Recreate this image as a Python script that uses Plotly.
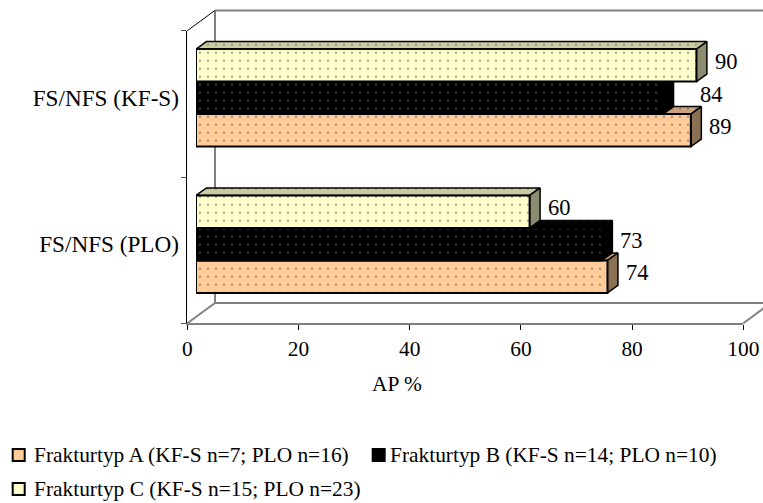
import plotly.graph_objects as go

# ---------------- data ----------------
categories = ["FS/NFS (PLO)", "FS/NFS (KF-S)"]          # bottom -> top
series_names = [
    "Frakturtyp A (KF-S n=7; PLO n=16)",
    "Frakturtyp B (KF-S n=14; PLO n=10)",
    "Frakturtyp C (KF-S n=15; PLO n=23)",
]
values_A = [74, 89]
values_B = [73, 84]
values_C = [60, 90]
x_ticks = [0, 20, 40, 60, 80, 100]
x_title = "AP %"

# ---------------- styling ----------------
W, H = 763, 503
FONT = "'Liberation Serif', 'Times New Roman', Times, 'DejaVu Serif', serif"
FS = 21.4          # legend / tick labels
FS_CAT = 23.2      # category labels
FS_VAL = 22.5      # value labels
front_cols = ["#FFCC99", "#000000", "#FFFFCC"]
top_cols = ["#CCA37A", "#000000", "#CCCCA3"]
side_cols = ["#8C7054", "#000000", "#8C8C70"]
dot_cols = ["#8A7560", "#4A4A4A", "#8C8C80"]
GRAY = "#808080"
label_nudge = {(1, 1): 18}   # (series, category) -> extra px shift of a value label

# front frame (pixels)
FX0, FX1, FY0, FY1 = 187.3, 743.3, 30.7, 323.3
# depth of the back wall (pixels)
WDX, WDY = 27.7, -20.3
# bar frame (pixels): bars sit a little behind the front plane
BX0, BY0 = 196.0, FY0 - 6.0
BX1, BY1 = BX0 + (FX1 - FX0), FY1 - 6.0
pxu_x = (BX1 - BX0) / 100.0
pxu_y = (BY1 - BY0) / 2.0
BAR_H = 32.5 / pxu_y                 # bar thickness in y units
DX = 10.5 / pxu_x                    # bar depth, x units
DY = 7.5 / pxu_y                     # bar depth, y units
offsets = [-1.5 * BAR_H, -0.5 * BAR_H, 0.5 * BAR_H]

def px(x):
    return x / W

def py(y):
    return 1 - y / H

series_vals = [values_A, values_B, values_C]
yc = list(range(len(categories)))

fig = go.Figure()

# invisible trace for the front frame axes
fig.add_trace(go.Scatter(x=[0], y=[0], mode="markers", marker=dict(opacity=0),
                         xaxis="x", yaxis="y", showlegend=False, hoverinfo="skip"))

# 3D top and side faces (drawn first, back to front A -> B -> C)
for i, vals in enumerate(series_vals):
    for j, v in enumerate(vals):
        y_bot = yc[j] + offsets[i]
        y_top = y_bot + BAR_H
        fig.add_trace(go.Scatter(
            x=[0, v, v + DX, DX, 0],
            y=[y_top, y_top, y_top + DY, y_top + DY, y_top],
            mode="lines", fill="toself", fillcolor=top_cols[i],
            fillpattern=dict(shape=".", fgcolor=dot_cols[i], bgcolor=top_cols[i],
                             size=8, solidity=0.06, fillmode="replace"),
            line=dict(color="black", width=1.5),
            xaxis="x2", yaxis="y2", showlegend=False, hoverinfo="skip"))
        fig.add_trace(go.Scatter(
            x=[v, v, v + DX, v + DX, v],
            y=[y_top, y_bot, y_bot + DY, y_top + DY, y_top],
            mode="lines", fill="toself", fillcolor=side_cols[i],
            line=dict(color="black", width=1.5),
            xaxis="x2", yaxis="y2", showlegend=False, hoverinfo="skip"))

# front faces (bars)
for i, vals in enumerate(series_vals):
    fig.add_trace(go.Bar(
        orientation="h", y=yc, x=vals, width=BAR_H, offset=offsets[i],
        name=series_names[i],
        marker=dict(color=front_cols[i], line=dict(color="black", width=2),
                    pattern=dict(shape=".", fgcolor=dot_cols[i], bgcolor=front_cols[i],
                                 size=8, solidity=0.06, fillmode="replace")),
        xaxis="x3", yaxis="y3", showlegend=False, hoverinfo="skip"))

# value labels
annotations = []
for i, vals in enumerate(series_vals):
    for j, v in enumerate(vals):
        annotations.append(dict(
            x=v + DX, y=yc[j] + offsets[i] + BAR_H / 2 + DY / 2,
            xref="x3", yref="y3", text=str(v), showarrow=False,
            xanchor="left", yanchor="middle", xshift=6 + label_nudge.get((i, j), 0),
            font=dict(family=FONT, size=FS_VAL, color="black")))

# axis title (centred under the whole chart block, as in the original)
annotations.append(dict(x=px(397), y=py(384), xref="paper", yref="paper",
                        text=x_title, showarrow=False, xanchor="center", yanchor="middle",
                        font=dict(family=FONT, size=FS, color="black")))

# custom legend
shapes = []
leg_items = [(11.7, 455.0, 31.7), (371.7, 455.0, 388.0), (11.7, 489.0, 31.7)]
for i, (lx, ly, tx) in enumerate(leg_items):
    shapes.append(dict(type="rect", xref="paper", yref="paper",
                       x0=px(lx + 1), x1=px(lx + 13), y0=py(ly - 6), y1=py(ly + 6),
                       fillcolor=front_cols[i], line=dict(color="black", width=2)))
    annotations.append(dict(x=px(tx), y=py(ly), xref="paper", yref="paper",
                            text=series_names[i], showarrow=False,
                            xanchor="left", yanchor="middle",
                            font=dict(family=FONT, size=FS, color="black")))

def seg(x0, y0, x1, y1, color=GRAY, width=2):
    return dict(type="line", xref="paper", yref="paper", layer="below",
                x0=px(x0), y0=py(y0), x1=px(x1), y1=py(y1),
                line=dict(color=color, width=width))

shapes += [
    seg(FX0 + WDX, FY0 + WDY, W + 10, FY0 + WDY),
    seg(FX0 + WDX, FY0 + WDY, FX0 + WDX, FY1 + WDY),
    seg(FX0, FY0, FX0 + WDX, FY0 + WDY, color="black", width=1),
    seg(FX0 + WDX, FY1 + WDY, W + 10, FY1 + WDY),
    seg(FX0, FY1, FX0 + WDX, FY1 + WDY),
    seg(FX1, FY1, FX1 + WDX, FY1 + WDY),
]

axis_off = dict(showgrid=False, zeroline=False, visible=False, fixedrange=True,
                automargin=False)

fig.update_layout(
    width=W, height=H, autosize=False, margin=dict(l=0, r=0, t=0, b=0, pad=0, autoexpand=False),
    paper_bgcolor="white", plot_bgcolor="rgba(0,0,0,0)",
    barmode="overlay", showlegend=False,
    font=dict(family=FONT, size=FS, color="black"),
    xaxis=dict(domain=[px(FX0), px(FX1)], range=[0, 100], tickvals=x_ticks,
               ticks="outside", ticklen=5, tickcolor="black", tickwidth=1,
               showline=True, linecolor=GRAY, linewidth=2,
               showgrid=False, zeroline=False, anchor="y", automargin=False,
               tickfont=dict(family=FONT, size=FS), fixedrange=True),
    yaxis=dict(domain=[py(FY1), py(FY0)], range=[0, 2], tickvals=[0, 1, 2],
               ticks="outside", ticklen=5, tickcolor="#555555", showticklabels=False,
               showline=True, linecolor="black", linewidth=1, automargin=False,
               showgrid=False, zeroline=False, anchor="x", fixedrange=True),
    xaxis2=dict(domain=[px(BX0), px(BX1)], range=[0, 100], anchor="y2", **axis_off),
    yaxis2=dict(domain=[py(BY1), py(BY0)], range=[-0.5, 1.5], anchor="x2", **axis_off),
    xaxis3=dict(domain=[px(BX0), px(BX1)], range=[0, 100], anchor="y3", **axis_off),
    yaxis3=dict(domain=[py(BY1), py(BY0)], range=[-0.5, 1.5], anchor="x3",
                tickvals=yc, ticktext=categories, ticks="", showline=False,
                showgrid=False, zeroline=False, fixedrange=True, automargin=False,
                ticklabelstandoff=16, tickfont=dict(family=FONT, size=FS_CAT)),
    shapes=shapes, annotations=annotations,
)

fig.write_html("out.html", config={"responsive": False})
